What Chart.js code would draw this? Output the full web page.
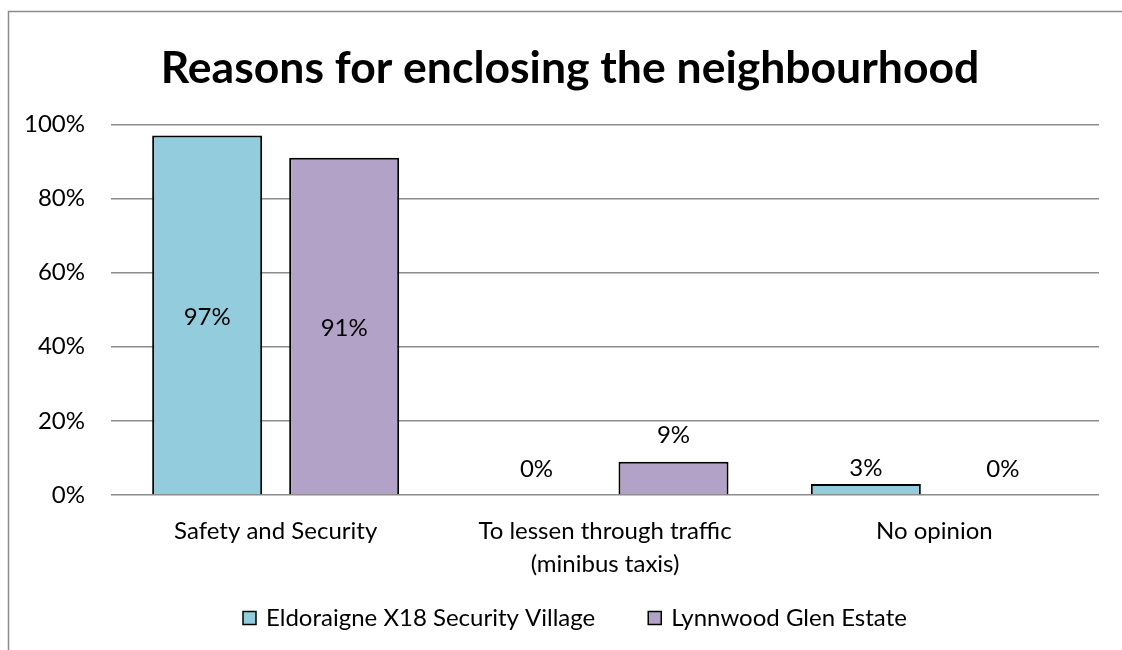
<!DOCTYPE html>
<html><head><meta charset="utf-8">
<script src="https://cdn.jsdelivr.net/npm/chart.js@4"></script>
<style>html,body{margin:0;padding:0;background:#fff;}#wrap{width:1122px;height:650px;position:relative;}</style>
</head><body><div id="wrap"><canvas id="c" width="1122" height="650"></canvas></div>
<script>
const categories = [["Safety and Security"], ["To lessen through traffic", "(minibus taxis)"], ["No opinion"]];
const seriesNames = ["Eldoraigne X18 Security Village", "Lynnwood Glen Estate"];
const eldoraigne = [97, 0, 3];
const lynnwood = [91, 9, 0];
const yTicks = [0, 20, 40, 60, 80, 100];
const chartTitle = "Reasons for enclosing the neighbourhood";

const FONT = "Lato, 'Open Sans', sans-serif";

const frame = {
  id: 'frame',
  beforeDraw(chart) {
    const c = chart.ctx;
    c.save();
    c.fillStyle = '#fff';
    c.fillRect(0, 0, chart.width, chart.height);
    c.strokeStyle = '#8c8c8c';
    c.lineWidth = 1.5;
    c.beginPath();
    c.moveTo(8.5, chart.height);
    c.lineTo(8.5, 11.5);
    c.lineTo(chart.width, 11.5);
    c.stroke();
    c.restore();
  }
};

const titleShift = {
  id: 'titleShift',
  afterLayout(chart) {
    if (chart.titleBlock) chart.titleBlock.left = 41;
  }
};

const labels = {
  id: 'labels',
  afterDatasetsDraw(chart) {
    const c = chart.ctx;
    c.save();
    c.font = "24px " + FONT;
    c.fillStyle = '#000';
    c.textAlign = 'center';
    c.textBaseline = 'middle';
    chart.data.datasets.forEach((ds, i) => {
      const meta = chart.getDatasetMeta(i);
      meta.data.forEach((bar, j) => {
        const v = ds.data[j];
        const h = bar.base - bar.y;
        let y;
        if (v >= 50) y = (bar.y + bar.base) / 2 + 2;
        else if (h < 20) y = bar.base - 26;
        else y = bar.y - 26;
        c.fillText(v + '%', bar.x, y);
      });
    });
    c.restore();
  }
};

const legendBox = {
  id: 'legendBox',
  afterDraw(chart) {
    const c = chart.ctx;
    c.save();
    c.font = "24px " + FONT;
    c.textBaseline = 'middle';
    c.textAlign = 'left';
    const box = 13, gapText = 10, gapItem = 53, cy = 618;
    const items = chart.data.datasets.map(ds => ({ text: ds.label, color: ds.backgroundColor, w: c.measureText(ds.label).width }));
    let total = 0;
    items.forEach((it, i) => { total += box + gapText + it.w + (i ? gapItem : 0); });
    let x = Math.round(575 - total / 2);
    items.forEach(it => {
      c.fillStyle = it.color;
      c.fillRect(x, cy - box / 2, box, box);
      c.strokeStyle = '#000';
      c.lineWidth = 1.5;
      c.strokeRect(x, cy - box / 2, box, box);
      c.fillStyle = '#000';
      c.fillText(it.text, x + box + gapText, cy);
      x += box + gapText + it.w + gapItem;
    });
    c.restore();
  }
};

new Chart(document.getElementById('c'), {
  type: 'bar',
  data: {
    labels: categories,
    datasets: [
      { label: seriesNames[0], data: eldoraigne, backgroundColor: '#93CDDD', borderColor: '#000', borderWidth: 2, borderSkipped: 'bottom' },
      { label: seriesNames[1], data: lynnwood, backgroundColor: '#B3A2C7', borderColor: '#000', borderWidth: 2, borderSkipped: 'bottom' }
    ]
  },
  options: {
    responsive: false,
    animation: false,
    devicePixelRatio: 1,
    categoryPercentage: 0.832,
    barPercentage: 0.803,
    layout: { padding: { left: 0, right: 23, top: 0, bottom: 0 } },
    plugins: {
      title: {
        display: true, text: chartTitle, color: '#000',
        font: { family: FONT, size: 44.5, weight: 'bold', lineHeight: 1.2 },
        padding: { top: 42, bottom: 29 }
      },
      legend: { display: false },
      tooltip: { enabled: false }
    },
    scales: {
      x: {
        grid: { display: false },
        border: { display: false },
        ticks: { color: '#000', font: { family: FONT, size: 24, lineHeight: 1.375 }, padding: 12, maxRotation: 0, autoSkip: false },
        afterFit(s) { s.height = 155; }
      },
      y: {
        min: 0, max: 100,
        afterBuildTicks(s) { s.ticks = yTicks.map(v => ({ value: v })); },
        grid: { color: '#8c8c8c', lineWidth: 1.5, drawTicks: false },
        border: { display: false },
        ticks: { color: '#000', font: { family: FONT, size: 24 }, padding: 26, callback: v => v + '%' },
        afterFit(s) { s.width = 111; }
      }
    }
  },
  plugins: [frame, titleShift, labels, legendBox]
});
</script></body></html>
